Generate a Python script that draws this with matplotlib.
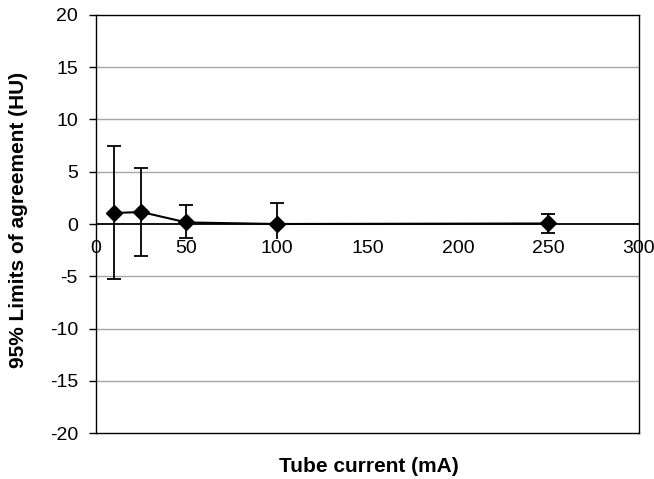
from matplotlib import pyplot as plt
import numpy as np

plt.rcParams["font.family"] = ["Liberation Sans", "DejaVu Sans"]

# data
current = [10, 25, 50, 100, 250]
mean_diff = [1.05, 1.15, 0.15, 0.0, 0.05]
upper = [7.45, 5.35, 1.8, 2.0, 0.95]
lower = [-5.25, -3.05, -1.3, -2.0, -0.85]
x_ticks = [0, 50, 100, 150, 200, 250, 300]
y_ticks = [-20, -15, -10, -5, 0, 5, 10, 15, 20]

err_low = np.array(mean_diff) - np.array(lower)
err_up = np.array(upper) - np.array(mean_diff)

fig = plt.figure(figsize=(6.54, 4.79), dpi=100)
ax = fig.add_axes([0.1468, 0.096, 0.8302, 0.8727])

ax.errorbar(current, mean_diff, yerr=[err_low, err_up], color="black", marker="D",
            markersize=8.5, linewidth=1.5, elinewidth=1.3, capsize=5, capthick=1.3, zorder=3)

ax.set_xlim(0, 300)
ax.set_ylim(-20, 20)
ax.set_yticks(y_ticks)
ax.set_yticklabels([str(v) for v in y_ticks], fontsize=14)
ax.tick_params(axis="y", direction="out", length=5, width=1, pad=8)
ax.set_xticks([])

for v in [-15, -10, -5, 5, 10, 15]:
    ax.axhline(v, color="#a6a6a6", linewidth=1, zorder=1)
ax.axhline(0, color="black", linewidth=1.3, zorder=2)

# x tick labels sit under the zero line, white background like the original
for v in x_ticks:
    bg = None
    if 0 < v < 300:
        bg = dict(facecolor="white", edgecolor="none", pad=1)
    ax.text(v, -1.55, str(v), ha="center", va="top", fontsize=14, zorder=4, bbox=bg)

for s in ax.spines.values():
    s.set_color("black")
    s.set_linewidth(1)
    s.set_zorder(5)

fig.text(0.029, 0.541, "95% Limits of agreement (HU)", rotation=90, ha="center", va="center",
         fontsize=15, fontweight="bold")
fig.text(0.564, 1 - 472 / 479, "Tube current (mA)", ha="center", va="baseline",
         fontsize=15, fontweight="bold")

plt.savefig("out.png", dpi=100)
